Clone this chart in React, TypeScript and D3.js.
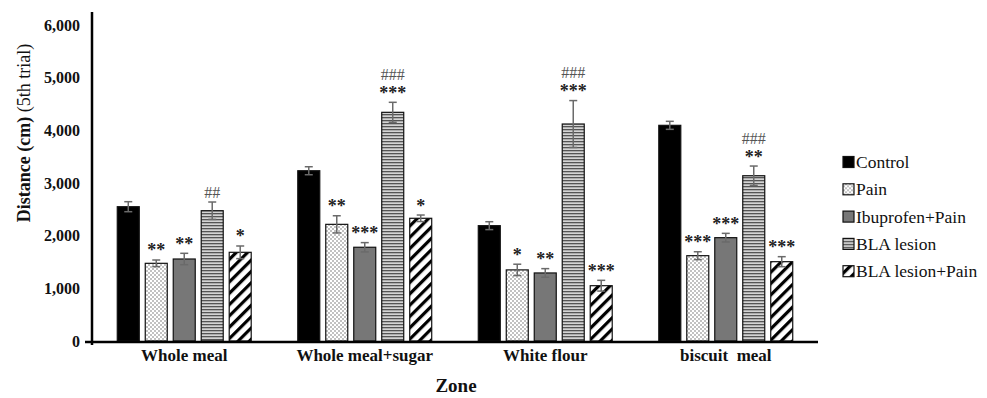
import * as d3 from "d3";

const zones = ["Whole meal", "Whole meal+sugar", "White flour", "biscuit  meal"];
const groups = ["Control", "Pain", "Ibuprofen+Pain", "BLA lesion", "BLA lesion+Pain"];

// mean distance (cm) per group, one value per zone
const control = [2550, 3233, 2190, 4095];
const pain = [1475, 2215, 1350, 1620];
const ibuPain = [1557, 1780, 1292, 1962];
const blaLesion = [2474, 4342, 4120, 3138];
const blaPain = [1684, 2330, 1050, 1506];

// error bars
const controlErr = [95, 76, 75, 76];
const painErr = [63, 163, 108, 75];
const ibuPainErr = [108, 88, 82, 82];
const blaLesionErr = [165, 190, 445, 184];
const blaPainErr = [120, 62, 102, 95];

// significance marks
const stars = [
  ["", "", "", ""],
  ["**", "**", "*", "***"],
  ["**", "***", "**", "***"],
  ["", "***", "***", "**"],
  ["*", "*", "***", "***"],
];
const hashes = [
  ["", "", "", ""],
  ["", "", "", ""],
  ["", "", "", ""],
  ["##", "###", "###", "###"],
  ["", "", "", ""],
];

const yTicks = [0, 1000, 2000, 3000, 4000, 5000, 6000];

const values = [control, pain, ibuPain, blaLesion, blaPain];
const errors = [controlErr, painErr, ibuPainErr, blaLesionErr, blaPainErr];
const fills = ["#000", "url(#dots)", "#777", "url(#hlines)", "url(#diag)"];

const serif = { fontFamily: "Liberation Serif, DejaVu Serif, serif" };

export default function App() {
  const W = 987;
  const H = 398;
  const axisX = 92;
  const x0 = d3.scaleBand<string>().domain(zones).range([axisX, 818]).paddingInner(0.258).paddingOuter(0.14);
  const x1 = d3.scaleBand<string>().domain(groups).range([0, x0.bandwidth()]).paddingInner(0.214).paddingOuter(0);
  const y = d3.scaleLinear().domain([0, 6000]).range([341, 25]);
  const fmt = d3.format(",");

  return (
    <svg width={W} height={H} style={{ position: "absolute", left: 0, top: 0, background: "#fff" }}>
      <defs>
        <pattern id="dots" width="4" height="4" patternUnits="userSpaceOnUse">
          <rect width="4" height="4" fill="#fff" />
          <circle cx="1" cy="1" r="0.7" fill="#555" />
          <circle cx="3" cy="3" r="0.7" fill="#555" />
        </pattern>
        <pattern id="hlines" width="4" height="3" patternUnits="userSpaceOnUse">
          <rect width="4" height="3" fill="#d4d4d4" />
          <rect width="4" height="1.3" fill="#555" />
        </pattern>
        <pattern id="diag" width="8" height="8" patternUnits="userSpaceOnUse" patternTransform="rotate(45)">
          <rect width="8" height="8" fill="#fff" />
          <rect width="3.2" height="8" fill="#000" />
        </pattern>
      </defs>

      {/* bars */}
      {groups.map((g, si) => (
        <g key={g}>
          {zones.map((z, zi) => {
            const v = values[si][zi];
            const e = errors[si][zi];
            const bx = (x0(z) ?? 0) + (x1(g) ?? 0);
            const bw = x1.bandwidth();
            const cx = bx + bw / 2;
            const capY = y(v + e);
            const st = stars[si][zi];
            const hs = hashes[si][zi];
            const starY = capY - 12;
            const hashY = st ? starY - 16 : capY - 10;
            return (
              <g key={z}>
                <rect x={bx} y={y(v)} width={bw} height={y(0) - y(v)} fill={fills[si]} stroke="#111" strokeWidth={1.2} />
                <g stroke="#6a6a6a" strokeWidth={1.5}>
                  <line x1={cx} x2={cx} y1={y(v - e)} y2={y(v + e)} />
                  <line x1={cx - 4} x2={cx + 4} y1={y(v + e)} y2={y(v + e)} />
                  <line x1={cx - 4} x2={cx + 4} y1={y(v - e)} y2={y(v - e)} />
                </g>
                {st && (
                  <text x={cx} y={starY + 8.5} textAnchor="middle" style={serif} fontWeight="bold" fontSize={18} fill="#222">
                    {st}
                  </text>
                )}
                {hs && (
                  <text x={cx} y={hashY + 5.5} textAnchor="middle" style={serif} fontSize={16} fill="#555">
                    {hs}
                  </text>
                )}
              </g>
            );
          })}
        </g>
      ))}

      {/* axes */}
      <line x1={axisX} x2={axisX} y1={12} y2={345} stroke="#000" strokeWidth={2.5} />
      <line x1={axisX - 7} x2={818} y1={y(0) + 1} y2={y(0) + 1} stroke="#000" strokeWidth={2.5} />
      {yTicks.map((t) => (
        <text key={t} x={80} y={y(t) + 5.5} textAnchor="end" style={serif} fontWeight="bold" fontSize={16} fill="#111">
          {fmt(t)}
        </text>
      ))}
      {zones.map((z) => (
        <text key={z} x={(x0(z) ?? 0) + x0.bandwidth() / 2} y={361} textAnchor="middle" style={{ ...serif, whiteSpace: "pre" }} fontWeight="bold" fontSize={17} fill="#111">
          {z}
        </text>
      ))}
      <text x={456} y={392} textAnchor="middle" style={serif} fontWeight="bold" fontSize={19} fill="#111">
        Zone
      </text>
      <text transform="translate(30,133) rotate(-90)" textAnchor="middle" style={serif} fontSize={18} fill="#111">
        <tspan fontWeight="bold">Distance (cm)</tspan>
        <tspan> (5th trial)</tspan>
      </text>

      {/* legend */}
      {groups.map((g, i) => (
        <g key={g} transform={`translate(843,${162 + i * 27.3})`}>
          <rect x={0} y={-5.5} width={11} height={11} fill={fills[i]} stroke="#111" strokeWidth={1.2} />
          <text x={13} y={6} style={serif} fontSize={17.5} fill="#111">
            {g}
          </text>
        </g>
      ))}
    </svg>
  );
}
